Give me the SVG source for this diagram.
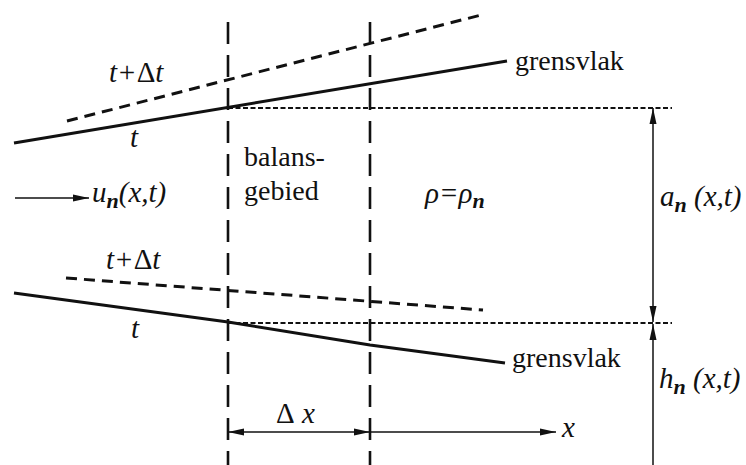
<svg xmlns="http://www.w3.org/2000/svg" width="746" height="465" viewBox="0 0 746 465">
<defs>
<marker id="ah" viewBox="0 0 16 8" refX="16" refY="4" markerWidth="16" markerHeight="8" markerUnits="userSpaceOnUse" orient="auto-start-reverse">
<path d="M0,0.5 L16,4 L0,7.5 Z" fill="#111"/>
</marker>
</defs>
<rect width="746" height="465" fill="#fff"/>
<g id="interfaces" fill="none" stroke="#111" stroke-width="3">
<line x1="14" y1="143" x2="507" y2="61"/>
<polyline points="14,293 228,322 370,345 505,363"/>
<g stroke-dasharray="11 7">
<line x1="67" y1="121" x2="485" y2="14"/>
<line x1="66" y1="278" x2="483" y2="310"/>
</g>
</g>
<g id="balance-region" fill="none" stroke="#111">
<g stroke-width="2.6" stroke-dasharray="22 11">
<line x1="228" y1="22" x2="228" y2="465"/>
<line x1="370" y1="22" x2="370" y2="465"/>
</g>
<g stroke-width="2" stroke-dasharray="5 2.5">
<line x1="228" y1="108" x2="672" y2="108"/>
<line x1="228" y1="323" x2="672" y2="323"/>
</g>
</g>
<g id="connectors" fill="none" stroke="#111" stroke-width="1.5">
<line x1="15" y1="198" x2="89" y2="198" marker-end="url(#ah)"/>
<line x1="653" y1="322" x2="653" y2="108" marker-start="url(#ah)" marker-end="url(#ah)"/>
<line x1="653" y1="465" x2="653" y2="324" marker-end="url(#ah)"/>
<line x1="228" y1="432" x2="370" y2="432" marker-start="url(#ah)" marker-end="url(#ah)"/>
<line x1="370" y1="432" x2="556" y2="432" marker-end="url(#ah)"/>
</g>
<g id="labels" fill="#111">
<text font-family="Liberation Serif" font-style="italic" font-size="29" x="109" y="82">t+<tspan font-style="normal">Δ</tspan>t</text>
<text font-family="Liberation Serif" font-style="italic" font-size="29" x="130" y="147">t</text>
<text font-family="Liberation Serif" font-size="28" x="244" y="166">balans-</text>
<text font-family="Liberation Serif" font-size="28" x="244" y="200">gebied</text>
<text font-family="Liberation Serif" font-style="italic" font-size="29" x="92" y="202">u<tspan font-size="22" font-weight="bold" dy="6">n</tspan><tspan dy="-6">(x,t)</tspan></text>
<text font-family="Liberation Serif" font-size="28" x="515" y="70">grensvlak</text>
<text font-family="Liberation Serif" font-style="italic" font-size="29" x="425" y="203">ρ=ρ<tspan font-size="22" font-weight="bold" dy="5">n</tspan></text>
<text font-family="Liberation Serif" font-style="italic" font-size="29" x="660" y="206">a<tspan font-size="22" font-weight="bold" dy="6">n</tspan><tspan dy="-6"> (x,t)</tspan></text>
<text font-family="Liberation Serif" font-style="italic" font-size="29" x="106" y="269">t+<tspan font-style="normal">Δ</tspan>t</text>
<text font-family="Liberation Serif" font-style="italic" font-size="29" x="131" y="338">t</text>
<text font-family="Liberation Serif" font-size="28" x="512" y="367">grensvlak</text>
<text font-family="Liberation Serif" font-style="italic" font-size="29" x="659" y="388">h<tspan font-size="22" font-weight="bold" dy="6">n</tspan><tspan dy="-6"> (x,t)</tspan></text>
<text font-family="Liberation Serif" font-style="italic" font-size="29" x="276" y="423"><tspan font-style="normal">Δ</tspan> x</text>
<text font-family="Liberation Serif" font-style="italic" font-size="29" x="562" y="437">x</text>
</g>
</svg>
